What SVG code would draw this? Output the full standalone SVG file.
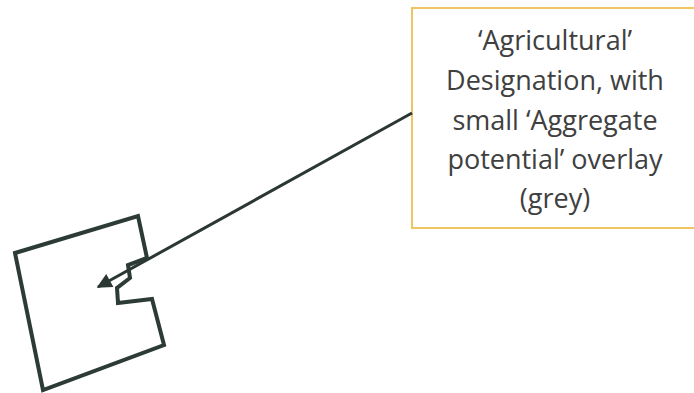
<svg xmlns="http://www.w3.org/2000/svg" width="694" height="393" viewBox="0 0 694 393">
<style>
.lbl{font-family:"Open Sans","Liberation Sans",sans-serif;font-size:27px;fill:#404040;text-anchor:middle}
.conn{stroke:#2b3732;stroke-width:3;fill:none}
</style>
<defs>
<marker id="ah" viewBox="0 0 10 10" refX="9" refY="5" markerWidth="6.5" markerHeight="5" markerUnits="strokeWidth" orient="auto">
<path d="M0,0 L10,5 L0,10 z" fill="#2b3732"/>
</marker>
</defs>
<rect width="694" height="393" fill="#ffffff"/>
<g id="parcel">
<polygon points="15,253 138,216 147,258 128,265 130,278 117,288 118,303 152,299 164,345 43,390" fill="none" stroke="#2d3b36" stroke-width="4" stroke-linejoin="miter"/>
</g>
<g id="label">
<rect x="412" y="8" width="290" height="220" fill="#ffffff" stroke="#efc462" stroke-width="2"/>
<text class="lbl" x="555" y="50">‘Agricultural’</text>
<text class="lbl" x="555" y="90">Designation, with</text>
<text class="lbl" x="555" y="130">small ‘Aggregate</text>
<text class="lbl" x="555" y="169">potential’ overlay</text>
<text class="lbl" x="555" y="208">(grey)</text>
</g>
<g id="connectors">
<line class="conn" x1="412" y1="113" x2="98" y2="287" marker-end="url(#ah)"/>
</g>
</svg>
